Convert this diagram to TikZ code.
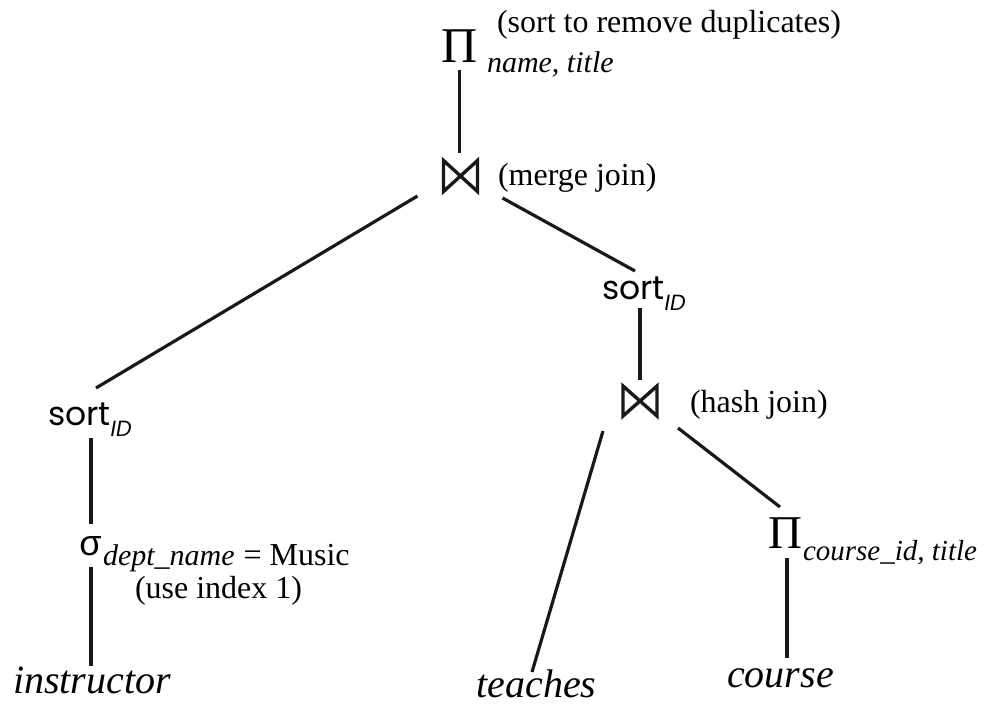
\documentclass[tikz,border=0pt]{standalone}
\usepackage{fontspec}
\setmainfont{Liberation Serif}
\newfontfamily\sortfont{Poppins}
\newfontfamily\grk{Liberation Sans}
\usetikzlibrary{calc}
\begin{document}
\begin{tikzpicture}[x=1pt,y=-1pt,
  txt/.style={inner sep=0pt, outer sep=0pt},
  conn/.style={line width=3.2pt, black!90},
  joinop/.style={inner sep=0pt, outer sep=0pt, minimum width=34pt, minimum height=31pt},
  bowline/.style={line width=3.4pt, line join=miter, black!90},
  ann/.style={txt, anchor=base west, font=\fontsize{32}{36}\selectfont},
  rel/.style={txt, font=\fontsize{40}{44}\selectfont\itshape},
  sortop/.style={txt, anchor=base west, font=\sortfont\fontsize{33}{36}\selectfont}]
\useasboundingbox (0,0) rectangle (985,704);

% top projection
\node[txt, anchor=base, font=\fontsize{50}{50}\selectfont] (pi1) at (459.5,62) {Π};
\node[txt, anchor=base west, font=\fontsize{30}{32}\selectfont\itshape] (pi1s) at (487,72) {name, title};
\node[ann] (ann1) at (497,32) {(sort to remove duplicates)};

% merge join
\node[joinop] (mj) at (460.5,176) {};
\node[ann] (mjl) at (498,185) {(merge join)};

% right sort
\node[sortop] (sortR) at (602,299) {sort\raisebox{-11pt}{\fontsize{22}{22}\selectfont\itshape ID}};

% hash join
\node[joinop, minimum height=30pt] (hj) at (640,401) {};
\node[ann] (hjl) at (690,412) {(hash join)};

% second projection
\node[txt, anchor=base, font=\fontsize{47}{47}\selectfont] (pi2) at (785,548) {Π};
\node[txt, anchor=base west, font=\fontsize{29}{32}\selectfont\itshape] (pi2s) at (803,560) {course\_id, title};

% relations
\node[rel, anchor=base] (course) at (780.5,687) {course};
\node[rel, anchor=base] (teaches) at (536.5,697) {teaches};
\node[rel, anchor=base west] (instr) at (13,693) {instructor};

% left branch
\node[sortop] (sortL) at (48,425) {sort\raisebox{-11pt}{\fontsize{22}{22}\selectfont\itshape ID}};
\node[txt, anchor=base, font=\grk\fontsize{36}{36}\selectfont] (sigma) at (90.5,555) {σ};
\node[txt, anchor=base west] (sigs) at (103,565) {{\fontsize{30}{32}\selectfont\itshape dept\_name}\hspace{9pt}{\fontsize{32}{36}\selectfont = Music}};
\node[ann] (useidx) at (135,598) {(use index 1)};

% bowtie glyphs
\draw[bowline] (mj.north west) -- (mj.south east) -- (mj.north east) -- (mj.south west) -- cycle;
\draw[bowline] (hj.north west) -- (hj.south east) -- (hj.north east) -- (hj.south west) -- cycle;

% connectors
\draw[conn] ($(pi1.base)+(0,8)$) -- ($(mj)+(-1,-23)$);
\draw[conn] ($(mj)+(-43,20)$) -- ($(sortL.base west)+(48,-37)$);
\draw[conn] ($(mj)+(42,22)$) -- ($(sortR.base west)+(33,-28)$);
\draw[conn] ($(sortR.base west)+(38,9)$) -- ($(hj)+(0,-21)$);
\draw[conn] ($(hj)+(-37,30)$) -- ($(teaches.base)+(-4.5,-25)$);
\draw[conn] ($(hj)+(38,27)$) -- ($(pi2.base)+(-5,-41)$);
\draw[conn] ($(pi2.base)+(2,10)$) -- ($(course.base)+(6.5,-29)$);
\draw[conn] ($(sortL.base west)+(43,13)$) -- ($(sigma.base)+(0.5,-31)$);
\draw[conn] ($(sigma.base)+(0.5,12)$) -- ($(instr.base west)+(78,-27)$);
\end{tikzpicture}
\end{document}
